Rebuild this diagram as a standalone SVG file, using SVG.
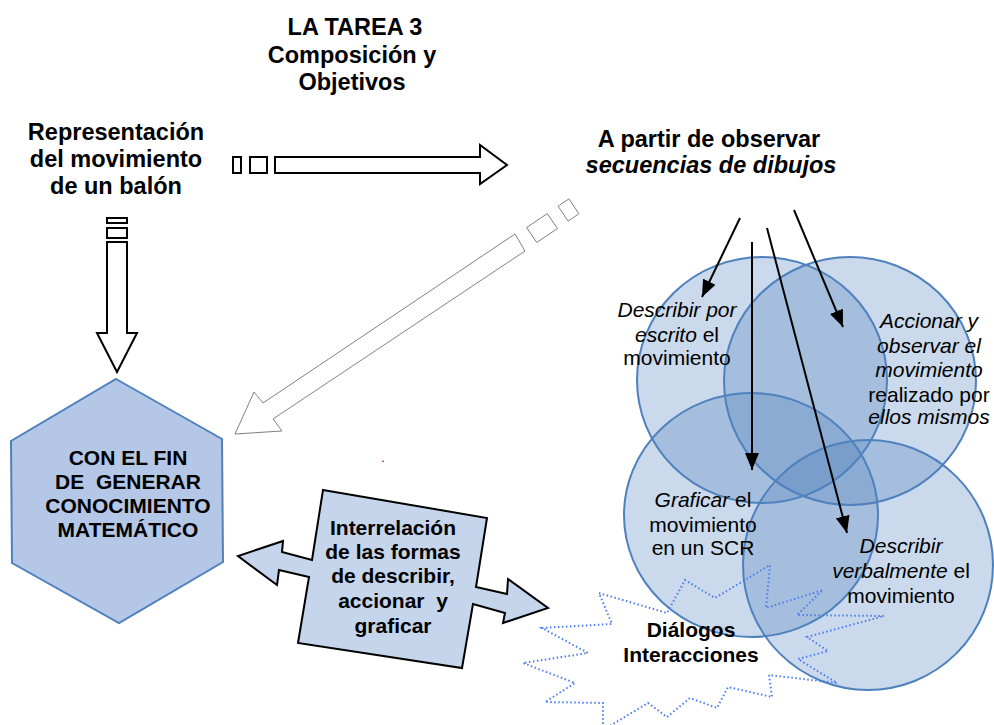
<svg xmlns="http://www.w3.org/2000/svg" width="994" height="725" viewBox="0 0 994 725">
<style>
text{font-family:"Liberation Sans",Arial,sans-serif;fill:#000;text-anchor:middle;white-space:pre}
.b{font-weight:bold}
.t{font-size:23.5px;font-weight:bold}
.h{font-size:21px;font-weight:bold}
.c{font-size:21px}
.i{font-style:italic}
.circ{fill:#4f81bd;fill-opacity:0.3;stroke:#4f81bd;stroke-width:2}
.blk{fill:#fff;stroke:#000;stroke-width:2}
.gry{fill:#fff;stroke:#808080;stroke-width:1}
.ln{stroke:#000;stroke-width:2;fill:none;marker-end:url(#ah)}
</style>
<defs>
<marker id="ah" markerUnits="userSpaceOnUse" markerWidth="18" markerHeight="14" refX="17" refY="7" orient="auto">
<path d="M0,0 L17,7 L0,14 z" fill="#000"/>
</marker>
</defs>
<rect width="994" height="725" fill="#fff"/>

<g id="title">
<text class="t" x="355" y="35">LA TAREA 3</text>
<text class="t" x="352" y="63">Composición y</text>
<text class="t" x="352" y="90">Objetivos</text>
</g>

<g id="source">
<text class="t" x="116" y="140">Representación</text>
<text class="t" x="116" y="167">del movimiento</text>
<text class="t" x="116" y="194">de un balón</text>
</g>

<g id="secuencias">
<text class="t" x="709" y="147">A partir de observar</text>
<text class="t i" x="711" y="173">secuencias de dibujos</text>
</g>

<g id="hexagon">
<polygon points="116,379 222,439 223,562 119,623 12,563 11,441" fill="#b4c7e6" stroke="#4f81bd" stroke-width="2"/>
<text class="h" x="128" y="465">CON EL FIN</text>
<text class="h" x="128" y="489">DE  GENERAR</text>
<text class="h" x="128" y="513">CONOCIMIENTO</text>
<text class="h" x="128" y="537">MATEMÁTICO</text>
</g>

<g id="circle-escrito">
<ellipse class="circ" cx="762" cy="380" rx="125" ry="123"/>
</g>
<g id="circle-accionar">
<ellipse class="circ" cx="850" cy="381" rx="126" ry="124"/>
</g>
<g id="circle-graficar">
<ellipse class="circ" cx="751" cy="515" rx="127" ry="122"/>
</g>
<g id="circle-verbal">
<ellipse class="circ" cx="868" cy="565" rx="125" ry="125"/>
</g>

<g id="labels-circles">
<text class="c" x="677" y="317"><tspan class="i">Describir por</tspan></text>
<text class="c" x="677" y="342"><tspan class="i">escrito</tspan> el</text>
<text class="c" x="677" y="365">movimiento</text>
<text class="c i" x="929" y="328">Accionar y</text>
<text class="c i" x="929" y="353">observar el</text>
<text class="c i" x="929" y="377">movimiento</text>
<text class="c" x="929" y="402">realizado por</text>
<text class="c i" x="929" y="424">ellos mismos</text>
<text class="c" x="703" y="507"><tspan class="i">Graficar</tspan> el</text>
<text class="c" x="703" y="532">movimiento</text>
<text class="c" x="703" y="555">en un SCR</text>
<text class="c i" x="901" y="553">Describir</text>
<text class="c" x="901" y="578"><tspan class="i">verbalmente</tspan> el</text>
<text class="c" x="901" y="603">movimiento</text>
</g>

<g id="dialogos">
<polygon points="599,593 667,613 685,580 715,598 770,565 766,608 823,590 797,615 884,616 807,637 828,651 798,659 837,683 769,675 772,697 728,687 717,708 690,698 667,717 648,703 603,730 603,703 545,702 575,683 523,663 588,653 542,628 612,624" fill="none" stroke="#4a7cf0" stroke-width="2" stroke-dasharray="1.5 2.5"/>
<text class="h" x="691" y="637">Diálogos</text>
<text class="h" x="691" y="662">Interacciones</text>
</g>

<g id="interrelacion">
<polygon points="323,490 487,518 476,587 507,594 508,579 548,608 503,623 505,613 473,604 462,668 298,643 309,577 279,570 277,585 238,556 283,541 282,552 312,560" fill="#c5d5eb" stroke="#000" stroke-width="2" stroke-linejoin="miter"/>
<text class="h" x="393" y="535">Interrelación</text>
<text class="h" x="393" y="559">de las formas</text>
<text class="h" x="393" y="583">de describir,</text>
<text class="h" x="393" y="608">accionar  y</text>
<text class="h" x="393" y="633">graficar</text>
</g>

<text x="383" y="462" style="font-size:12px">.</text>

<g id="connectors">
<rect class="blk" x="233" y="157" width="8" height="16"/>
<rect class="blk" x="250" y="157" width="17" height="16"/>
<polygon class="blk" points="275,157 480,157 480,145 507,165 480,184 480,173 275,173"/>
<rect class="blk" x="107" y="218" width="20" height="5"/>
<rect class="blk" x="107" y="228" width="20" height="10"/>
<polygon class="blk" points="107,242 127,242 127,333 137,333 117,372 97,333 107,333"/>
<polygon class="gry" points="558.1,206.2 568.9,198.9 578.9,213.8 568.1,221.1"/>
<polygon class="gry" points="526.6,227.5 547.3,213.6 557.4,228.5 536.7,242.5"/>
<polygon class="gry" points="515,234 263,403 254,392 235,434 282,431 273,419 525,251"/>
<line class="ln" x1="740" y1="218" x2="702" y2="297"/>
<line class="ln" x1="752" y1="242" x2="752" y2="470"/>
<line class="ln" x1="767" y1="228" x2="847" y2="533"/>
<line class="ln" x1="794" y1="210" x2="843" y2="327"/>
</g>
</svg>
